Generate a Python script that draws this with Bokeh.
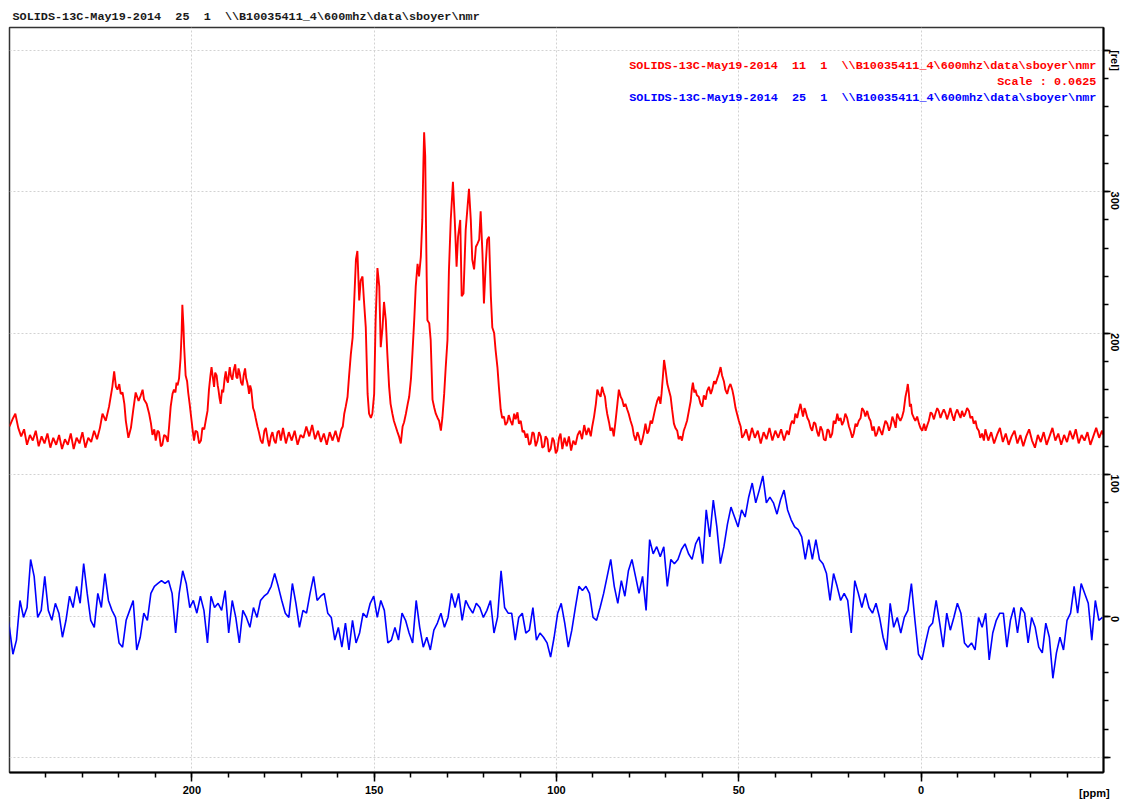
import math
import numpy as np
from bokeh.plotting import figure
from bokeh.models import Range1d, FixedTicker, Label, ColumnDataSource
from bokeh.embed import file_html
from bokeh.resources import INLINE

# ---------------- data ----------------
header_text = r"SOLIDS-13C-May19-2014  25  1  \\B10035411_4\600mhz\data\sboyer\nmr"
red_caption = r"SOLIDS-13C-May19-2014  11  1  \\B10035411_4\600mhz\data\sboyer\nmr"
scale_caption = "Scale : 0.0625"
blue_caption = r"SOLIDS-13C-May19-2014  25  1  \\B10035411_4\600mhz\data\sboyer\nmr"
x_unit_label = "[ppm]"

x_major = [200, 150, 100, 50, 0]
x_minor = list(range(-40, 250, 10))
y_major = [-100, 0, 100, 200, 300, 400]
y_minor = list(range(-100, 401, 20))
y_labels = {-100: "", 0: "0", 100: "100", 200: "200", 300: "300", 400: "[rel]"}

red_ppm = [
    250.0, 249.0, 248.4, 247.6, 246.8, 246.0, 245.2, 244.4, 243.6, 242.8,
    242.0, 241.2, 240.4, 239.6, 238.8, 238.0, 237.2, 236.4, 235.6, 234.8,
    234.0, 233.2, 232.4, 231.6, 230.8, 230.0, 229.2, 228.4, 227.6, 226.8,
    226.0, 225.2, 224.5, 223.6, 222.7, 221.8, 221.3, 220.8, 220.4, 219.9,
    219.5, 219.0, 218.5, 218.1, 217.4, 216.7, 216.1, 215.4, 214.6, 214.0,
    213.5, 213.1, 212.4, 211.7, 211.2, 210.8, 210.3, 209.9, 209.4, 209.0,
    208.5, 208.1, 207.6, 207.1, 206.6, 206.2, 205.8, 205.3, 204.9, 204.5,
    204.2, 203.9, 203.5, 203.1, 202.8, 202.6, 202.3, 202.1, 201.7, 201.3,
    201.0, 200.6, 200.2, 199.8, 199.4, 199.0, 198.5, 198.0, 197.5, 197.1,
    196.6, 196.2, 195.7, 195.3, 194.9, 194.6, 194.2, 193.9, 193.6, 193.2,
    192.9, 192.7, 192.4, 192.1, 191.7, 191.4, 191.0, 190.7, 190.4, 190.1,
    189.8, 189.6, 189.3, 188.9, 188.5, 188.1, 187.8, 187.5, 187.2, 186.9,
    186.5, 186.1, 185.8, 185.4, 185.1, 184.8, 184.5, 184.3, 184.0, 183.7,
    183.4, 183.2, 182.8, 182.5, 182.0, 181.6, 181.1, 180.6, 180.1, 179.7,
    179.2, 178.8, 178.3, 177.9, 177.4, 177.0, 176.5, 176.1, 175.6, 175.0,
    174.2, 173.4, 172.6, 171.8, 171.0, 170.2, 169.4, 168.6, 167.8, 167.0,
    166.2, 165.4, 164.6, 163.8, 163.0, 162.2, 161.4, 160.6, 159.8, 159.0,
    158.6, 158.2, 157.8, 157.3, 156.9, 156.4, 155.9, 155.5, 155.0, 154.6,
    154.1, 153.7, 153.2, 152.8, 152.3, 151.8, 151.4, 150.9, 150.5, 150.0,
    149.6, 149.1, 148.6, 148.2, 147.7, 147.3, 146.8, 146.4, 145.9, 145.5,
    145.0, 144.6, 144.1, 143.6, 143.2, 142.7, 142.2, 141.8, 141.3, 140.8,
    140.4, 139.9, 139.5, 139.0, 138.6, 138.1, 137.7, 137.2, 136.8, 136.5,
    136.3, 136.0, 135.8, 135.6, 135.4, 134.9, 134.5, 134.2, 134.0, 133.5,
    133.1, 132.6, 132.2, 131.7, 131.3, 130.8, 130.4, 129.9, 129.5, 129.0,
    128.4, 127.9, 127.4, 127.0, 126.4, 126.0, 125.5, 124.9, 124.4, 124.0,
    123.5, 123.1, 122.6, 122.1, 121.7, 121.2, 120.8, 120.3, 119.9, 119.4,
    119.0, 118.5, 118.0, 117.6, 117.1, 116.7, 116.2, 115.8, 115.3, 114.9,
    114.4, 114.0, 113.5, 113.1, 112.6, 112.1, 111.6, 111.2, 110.7, 110.3,
    109.8, 109.3, 108.9, 108.4, 108.0, 107.5, 107.1, 106.6, 106.2, 105.7,
    105.2, 104.8, 104.3, 103.9, 103.4, 103.0, 102.5, 102.1, 101.6, 101.1,
    100.7, 100.2, 99.8, 99.3, 98.9, 98.4, 97.8, 97.2, 96.6, 96.0,
    95.4, 94.8, 94.2, 93.6, 93.0, 92.4, 91.8, 91.2, 90.6, 90.2,
    89.7, 89.2, 88.8, 88.4, 87.9, 87.5, 87.1, 86.7, 86.4, 86.1,
    85.6, 85.2, 84.7, 84.3, 83.8, 83.3, 82.9, 82.4, 82.0, 81.5,
    81.1, 80.6, 80.2, 79.7, 79.2, 78.8, 78.3, 77.8, 77.4, 76.9,
    76.5, 76.0, 75.6, 75.1, 74.7, 74.2, 73.8, 73.3, 72.8, 72.4,
    71.9, 71.5, 71.2, 70.8, 70.5, 70.1, 69.6, 69.2, 68.7, 68.3,
    67.8, 67.4, 66.9, 66.5, 66.0, 65.6, 65.1, 64.7, 64.2, 63.7,
    63.2, 62.9, 62.6, 62.2, 61.9, 61.5, 61.0, 60.5, 60.0, 59.6,
    59.1, 58.7, 58.2, 57.7, 57.3, 56.8, 56.4, 55.9, 55.5, 55.0,
    54.6, 54.1, 53.7, 53.2, 52.7, 52.3, 51.8, 51.4, 50.9, 50.5,
    50.0, 49.5, 49.1, 48.6, 48.0, 47.2, 46.4, 45.6, 44.8, 44.0,
    43.2, 42.4, 41.6, 40.8, 40.0, 39.2, 38.4, 37.6, 36.8, 36.3,
    35.8, 35.4, 34.9, 34.5, 34.0, 33.6, 33.1, 32.8, 32.4, 32.0,
    31.7, 31.2, 30.8, 30.3, 29.9, 29.4, 29.0, 28.5, 28.1, 27.6,
    27.1, 26.7, 26.2, 25.7, 25.3, 24.9, 24.4, 24.0, 23.5, 23.0,
    22.6, 22.1, 21.7, 21.2, 20.8, 20.3, 19.8, 19.4, 18.9, 18.5,
    18.0, 17.6, 17.1, 16.6, 16.2, 15.7, 15.3, 14.8, 14.3, 13.9,
    13.4, 13.0, 12.5, 12.1, 11.6, 11.2, 10.7, 10.2, 9.8, 9.3,
    8.8, 8.4, 7.9, 7.5, 7.0, 6.6, 6.1, 5.7, 5.2, 4.8,
    4.3, 3.9, 3.66, 3.4, 3.1, 2.8, 2.5, 2.0, 1.6, 1.1,
    0.6, 0.2, -0.3, -0.8, -1.2, -1.7, -2.1, -2.6, -3.0, -3.5,
    -3.9, -4.4, -4.8, -5.3, -5.7, -6.2, -6.7, -7.1, -7.6, -8.0,
    -8.5, -9.0, -9.4, -9.9, -10.3, -10.8, -11.2, -11.7, -12.1, -12.6,
    -13.1, -13.5, -14.0, -14.4, -14.9, -15.3, -15.8, -16.2, -16.7, -17.2,
    -17.6, -18.4, -19.2, -20.0, -20.8, -21.6, -22.4, -23.2, -24.0, -24.8,
    -25.6, -26.4, -27.2, -28.0, -28.8, -29.6, -30.4, -31.2, -32.0, -32.8,
    -33.6, -34.4, -35.2, -36.0, -36.8, -37.6, -38.4, -39.2, -40.0, -40.8,
    -41.6, -42.4, -43.2, -44.0, -44.8, -45.6, -46.4, -47.2, -48.0, -48.8,
    -49.6, -50.0,
]
red_rel = [
    134, 140, 143, 133, 127, 132, 121, 128, 124, 131,
    120, 127, 122, 129, 119, 126, 121, 128, 118, 125,
    121, 129, 118, 126, 122, 130, 119, 126, 123, 131,
    125, 133, 143, 138, 148, 162, 173, 162, 160, 164,
    157, 158, 150, 138, 126, 133, 145, 158, 152, 156,
    160, 153, 150, 143, 136, 128, 132, 124, 131, 130,
    120, 121, 128, 127, 123, 135, 148, 157, 160, 158,
    165, 163, 168, 182, 200, 220, 205, 190, 170, 166,
    158, 150, 141, 132, 124, 131, 130, 122, 124, 133,
    132, 138, 145, 160, 170, 176, 168, 162, 172, 170,
    163, 160, 154, 150, 160, 158, 168, 173, 167, 165,
    172, 176, 170, 167, 174, 178, 169, 168, 175, 172,
    165, 163, 170, 175, 168, 165, 161, 157, 163, 160,
    152, 147, 144, 140, 134, 130, 124, 122, 131, 133,
    125, 120, 127, 130, 124, 122, 130, 131, 124, 133,
    122, 130, 124, 131, 121, 128, 126, 134, 127, 135,
    125, 131, 123, 129, 121, 130, 124, 131, 123, 132,
    134, 143, 148, 155, 169, 185, 197, 221, 252, 258,
    223, 237, 240, 223, 204, 157, 143, 140, 143, 157,
    209, 246, 233, 190, 204, 222, 209, 186, 162, 150,
    143, 138, 134, 130, 127, 122, 134, 137, 143, 150,
    155, 168, 186, 210, 233, 249, 240, 254, 280, 320,
    342, 325, 280, 240, 209, 207, 195, 170, 153, 147,
    143, 140, 138, 131, 140, 157, 175, 195, 244, 280,
    307, 280, 247, 268, 280, 226, 228, 273, 289, 302,
    280, 252, 245, 261, 263, 266, 286, 256, 221, 249,
    266, 268, 226, 204, 200, 188, 176, 162, 146, 140,
    141, 135, 137, 142, 138, 135, 143, 139, 144, 136,
    138, 130, 131, 126, 129, 121, 122, 130, 129, 120,
    124, 130, 127, 119, 120, 127, 125, 116, 118, 126,
    124, 115, 117, 126, 129, 118, 126, 120, 127, 117,
    124, 121, 128, 131, 125, 135, 128, 133, 127, 134,
    141, 150, 160, 157, 155, 162, 158, 155, 148, 143,
    137, 131, 133, 127, 138, 150, 160, 155, 153, 148,
    150, 146, 143, 138, 134, 128, 124, 130, 127, 121,
    124, 130, 136, 129, 131, 138, 136, 142, 148, 152,
    155, 150, 157, 170, 181, 174, 164, 160, 155, 146,
    136, 133, 131, 125, 127, 124, 131, 134, 138, 145,
    152, 160, 165, 158, 160, 156, 155, 150, 148, 156,
    153, 159, 162, 157, 160, 166, 164, 168, 171, 176,
    170, 166, 160, 157, 162, 164, 160, 155, 147, 143,
    138, 134, 126, 128, 132, 124, 133, 126, 131, 122,
    130, 125, 133, 124, 131, 126, 132, 124, 131, 128,
    135, 138, 136, 143, 140, 145, 150, 146, 141, 147,
    145, 140, 138, 133, 131, 137, 136, 130, 127, 134,
    131, 125, 124, 132, 131, 126, 129, 138, 136, 143,
    138, 140, 135, 138, 143, 140, 134, 131, 126, 129,
    136, 134, 138, 140, 147, 145, 141, 145, 140, 138,
    131, 134, 127, 129, 134, 131, 128, 134, 138, 136,
    131, 134, 141, 138, 133, 143, 140, 138, 141, 145,
    155, 160, 164, 158, 148, 150, 143, 140, 138, 141,
    136, 133, 131, 136, 131, 135, 138, 144, 143, 139,
    143, 147, 145, 140, 143, 146, 143, 139, 143, 147,
    142, 138, 143, 146, 143, 140, 145, 141, 143, 147,
    145, 140, 141, 136, 138, 133, 131, 126, 129, 124,
    132, 124, 130, 122, 128, 133, 123, 129, 121, 127,
    131, 122, 128, 120, 127, 132, 124, 119, 128, 123,
    130, 121, 127, 133, 124, 129, 121, 128, 123, 131,
    125, 132, 122, 128, 124, 130, 121, 127, 133, 126,
    131, 128,
]

# blue spectrum: sampled every 0.97 ppm starting at 251.0 ppm
blue_first_ppm = 251.0
blue_step_ppm = 0.97
blue_rel = [
    6, -8, -27, -17, 11, -1, 6, 40, 28, -1,
    4, 28, 4, -3, 9, 2, -15, -3, 14, 6,
    21, 9, 37, 16, -3, -8, 16, 6, 30, 11,
    4, -1, -19, -22, -3, 4, 11, -24, -15, 2,
    -3, 16, 21, 23, 25, 23, 25, 16, -12, 16,
    32, 23, 6, 11, 2, 14, 4, -19, 14, 6,
    9, 4, 18, -12, 11, -1, -19, 4, -1, -8,
    6, -1, 11, 14, 16, 21, 30, 21, 11, 2,
    -1, 23, 9, -8, 4, 2, 16, 28, 11, 14,
    16, 2, -1, -17, -8, -22, -5, -24, -3, -19,
    -12, 2, -1, 9, 14, -1, 11, 4, -19, -17,
    -8, -17, 2, -3, -12, -19, 11, -8, -22, -15,
    -24, -10, -5, 2, -8, -1, 16, 6, 16, -3,
    11, 6, 2, 9, 6, -1, 4, 11, -12, -1,
    32, 6, 2, 2, -17, -1, 2, -12, -10, 6,
    -17, -12, -15, -19, -29, -15, 2, 9, -5, -22,
    -10, 6, 21, 18, 21, 16, -1, -3, 6, 16,
    28, 40, 21, 9, 25, 14, 32, 40, 28, 16,
    28, 4, 54, 44, 49, 42, 49, 21, 40, 37,
    40, 47, 51, 44, 40, 51, 56, 37, 75, 56,
    82, 63, 37, 49, 65, 77, 70, 63, 75, 70,
    84, 94, 80, 89, 99, 80, 84, 80, 72, 82,
    89, 75, 68, 63, 61, 56, 40, 54, 40, 54,
    40, 37, 30, 11, 30, 21, 11, 16, 11, -12,
    25, 16, 6, 16, 6, 2, 9, -1, -15, -24,
    9, -8, -1, -12, -1, 4, 23, -3, -27, -31,
    -19, -8, -5, 11, -5, -22, 2, -10, -1, 9,
    2, -19, -22, -19, -24, -1, -8, 2, -31, -12,
    -3, 2, 2, -22, -3, 6, -12, 6, 2, -19,
    -1, -8, -22, -26, -5, -15, -44, -26, -15, -24,
    -3, 2, 21, 2, 23, 16, 9, -17, 11, -3, -1,
]
blue_ppm = [blue_first_ppm - blue_step_ppm * i for i in range(len(blue_rel))]

n = min(len(red_ppm), len(red_rel))
red_src = ColumnDataSource(dict(ppm=red_ppm[:n], rel=red_rel[:n]))
blue_src = ColumnDataSource(dict(ppm=blue_ppm, rel=blue_rel))

NB = "\u00a0"


def keep_spaces(s):
    return s.replace(" ", NB)


MONO = "Liberation Mono"
SANS = "Liberation Sans"

# ---------------- figure ----------------
p = figure(width=1129, height=801,
           x_range=Range1d(250.0, -50.0), y_range=Range1d(-110.6, 416.0),
           y_axis_location="right", output_backend="svg", toolbar_location=None,
           min_border_left=9, min_border_right=26, min_border_top=27, min_border_bottom=29)
p.background_fill_color = "white"
p.border_fill_color = "white"
p.outline_line_color = "#333333"
p.outline_line_width = 1.5

p.title.text = keep_spaces(header_text)
p.title.text_font = MONO
p.title.text_font_size = "11.8px"
p.title.text_font_style = "bold"
p.title.text_color = "#1a1a1a"
p.title.align = "left"
p.title.offset = 3
p.title.standoff = 8

# axes
p.xaxis.ticker = FixedTicker(ticks=x_major, minor_ticks=x_minor)
p.yaxis.ticker = FixedTicker(ticks=y_major, minor_ticks=y_minor)
p.yaxis.major_label_overrides = y_labels
for ax in (p.xaxis[0], p.yaxis[0]):
    ax.axis_line_color = "black"
    ax.axis_line_width = 2
    ax.major_tick_line_color = "black"
    ax.minor_tick_line_color = "black"
    ax.major_tick_line_width = 1.5
    ax.minor_tick_line_width = 1.5
    ax.major_tick_in = 0
    ax.minor_tick_in = 0
    ax.major_label_text_font = SANS
    ax.major_label_text_font_size = "11px"
    ax.major_label_text_font_style = "bold"
    ax.major_label_text_color = "black"
    ax.major_label_standoff = 4
p.xaxis.major_tick_out = 9
p.xaxis.minor_tick_out = 5
p.yaxis.major_tick_out = 7
p.yaxis.minor_tick_out = 5
p.yaxis.major_label_orientation = -math.pi / 2

# unit label of the ppm axis, on the tick-label row near the right end
# (trailing no-break spaces move the centred label left of the frame corner)
p.xaxis.axis_label = x_unit_label + NB * 6
p.xaxis.axis_label_align = "start"
p.xaxis.axis_label_standoff = -10
p.xaxis.axis_label_text_font = SANS
p.xaxis.axis_label_text_font_size = "11px"
p.xaxis.axis_label_text_font_style = "bold"
p.xaxis.axis_label_text_color = "black"

# grid
p.xgrid.ticker = FixedTicker(ticks=x_major)
p.ygrid.ticker = FixedTicker(ticks=y_major)
for g in (p.xgrid[0], p.ygrid[0]):
    g.grid_line_color = "#d2d2d2"
    g.grid_line_dash = "2 2"
    g.grid_line_width = 1

# spectra
p.line(x="ppm", y="rel", source=red_src, line_color="#ff0000", line_width=1.9)
p.line(x="ppm", y="rel", source=blue_src, line_color="#0000ff", line_width=1.6)

# captions inside the frame
for txt, yv, col in ((red_caption, 388.7, "#ff0000"),
                     (scale_caption, 377.4, "#ff0000"),
                     (blue_caption, 366.1, "#0000ff")):
    p.add_layout(Label(x=-48.05, y=yv, text=keep_spaces(txt), text_align="right",
                       text_baseline="middle", text_color=col, text_font=MONO,
                       text_font_size="11.8px", text_font_style="bold"))

open("out.html", "w").write(file_html(p, INLINE))
